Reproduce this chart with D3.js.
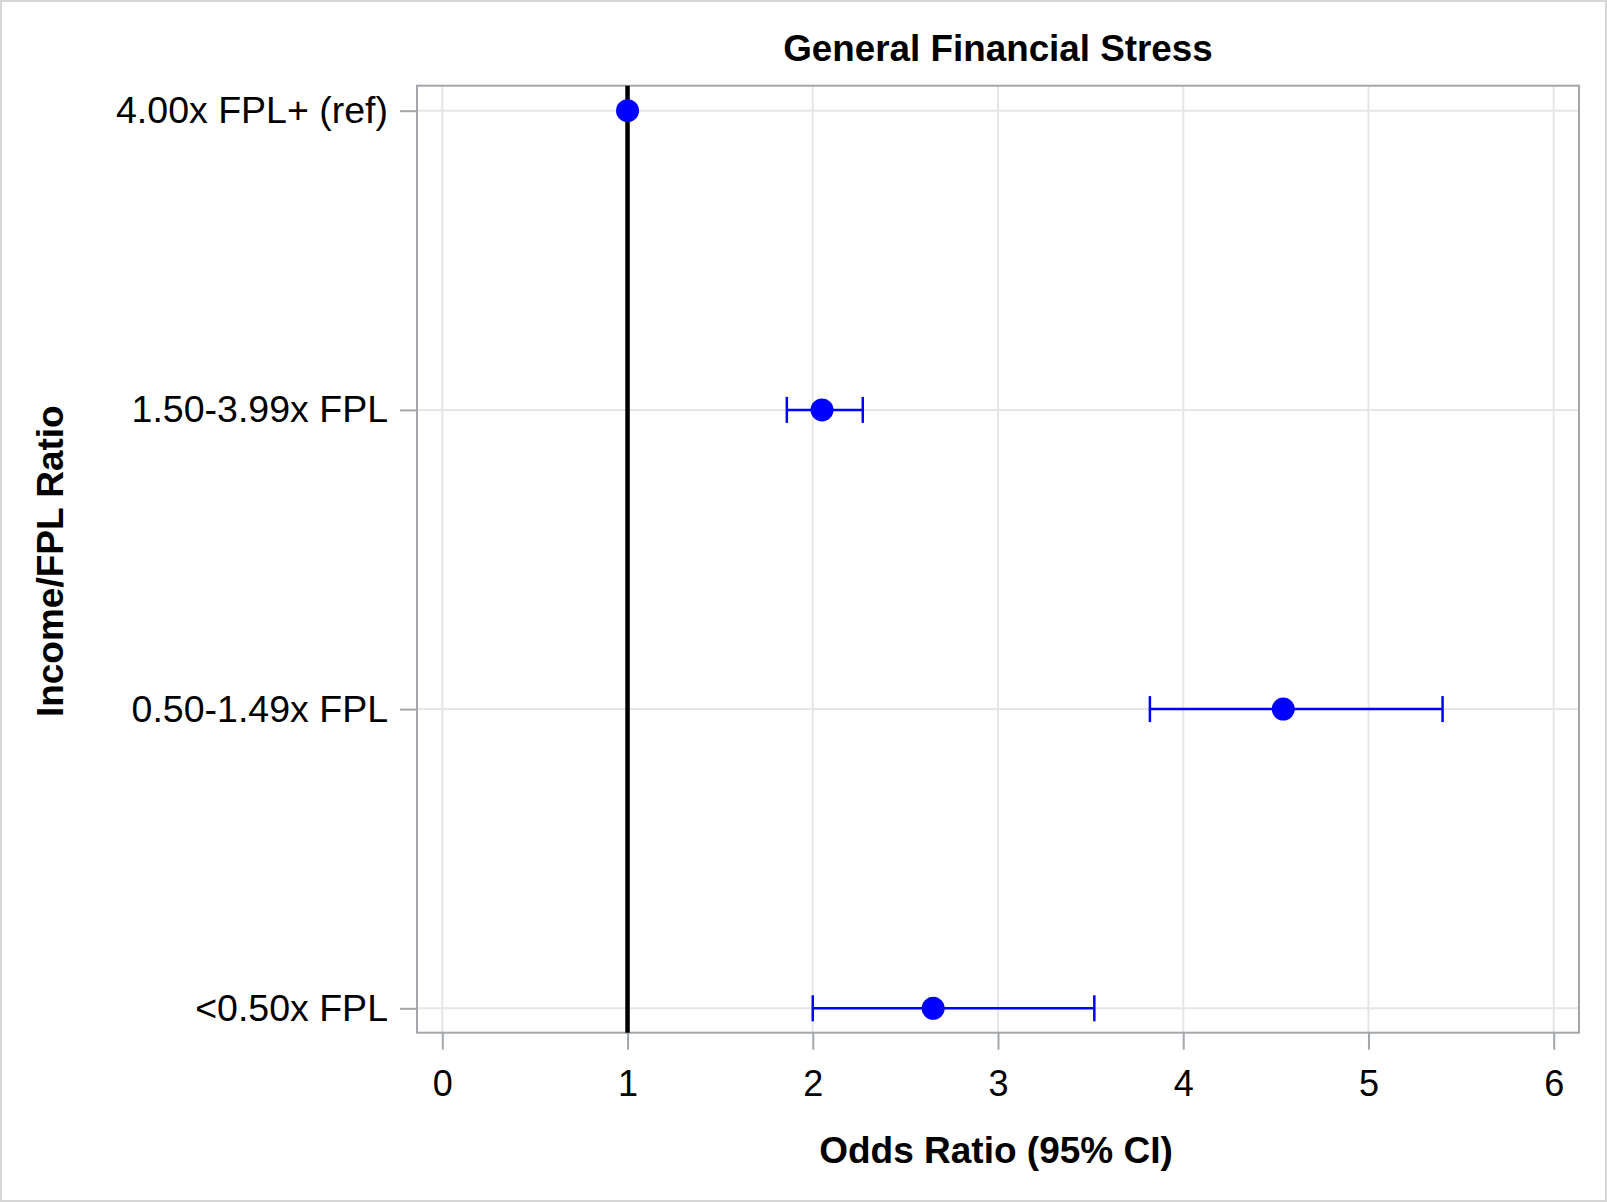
<!DOCTYPE html>
<html>
<head>
<meta charset="utf-8">
<script src="https://cdn.jsdelivr.net/npm/d3@7/dist/d3.min.js"></script>
<style>
  html, body { margin: 0; padding: 0; background: #fff; }
  svg { display: block; }
  text { font-family: "Liberation Sans", Arial, sans-serif; fill: #000; }
</style>
</head>
<body>
<svg id="chart" width="1607" height="1202"></svg>
<script>
// ---- data ----
const categories = ["4.00x FPL+ (ref)", "1.50-3.99x FPL", "0.50-1.49x FPL", "<0.50x FPL"];
const oddsRatio = [1.0, 2.05, 4.54, 2.65];
const lowerCI = [null, 1.86, 3.82, 2.00];
const upperCI = [null, 2.27, 5.40, 3.52];
const xTicks = [0, 1, 2, 3, 4, 5, 6];
const refValue = 1;
const titleText = "General Financial Stress";
const xLabelText = "Odds Ratio (95% CI)";
const yLabelText = "Income/FPL Ratio";

// ---- layout ----
const W = 1607, H = 1202;
const frame = { left: 417, right: 1579, top: 85.7, bottom: 1032.7 };
const svg = d3.select("#chart");

// outer border
svg.append("rect")
  .attr("x", 1).attr("y", 1).attr("width", W - 2).attr("height", H - 2)
  .attr("fill", "#fff").attr("stroke", "#d6d6d6").attr("stroke-width", 2);

const x = d3.scaleLinear().domain([0, 6]).range([442.3, 1553.7]);
const y = d3.scalePoint().domain(categories).range([frame.top + 25, frame.bottom - 24.4]);

const gridColor = "#e6e6e6";
const axisColor = "#a3a7ab";

// grid lines
svg.append("g").selectAll("line").data(xTicks).join("line")
  .attr("x1", d => x(d)).attr("x2", d => x(d))
  .attr("y1", frame.top).attr("y2", frame.bottom)
  .attr("stroke", gridColor).attr("stroke-width", 2);
svg.append("g").selectAll("line").data(categories).join("line")
  .attr("x1", frame.left).attr("x2", frame.right)
  .attr("y1", d => y(d)).attr("y2", d => y(d))
  .attr("stroke", gridColor).attr("stroke-width", 2);

// axes
const xAxis = d3.axisBottom(x).tickValues(xTicks).tickSize(17).tickPadding(21).tickFormat(d3.format("d"));
const gx = svg.append("g").attr("transform", `translate(0,${frame.bottom})`).call(xAxis);
gx.select(".domain").remove();
gx.selectAll(".tick line").attr("stroke", axisColor).attr("stroke-width", 2);
gx.selectAll(".tick text").attr("font-size", 36).attr("font-family", "Liberation Sans, Arial, sans-serif").attr("fill", "#222");

const yAxis = d3.axisLeft(y).tickSize(17).tickPadding(12);
const gy = svg.append("g").attr("transform", `translate(${frame.left},0)`).call(yAxis);
gy.select(".domain").remove();
gy.selectAll(".tick line").attr("stroke", axisColor).attr("stroke-width", 2);
gy.selectAll(".tick text").attr("font-size", 37.5).attr("font-family", "Liberation Sans, Arial, sans-serif").attr("fill", "#222");

// frame
svg.append("rect")
  .attr("x", frame.left).attr("y", frame.top)
  .attr("width", frame.right - frame.left).attr("height", frame.bottom - frame.top)
  .attr("fill", "none").attr("stroke", axisColor).attr("stroke-width", 2);

// reference line
svg.append("line")
  .attr("x1", x(refValue)).attr("x2", x(refValue))
  .attr("y1", frame.top).attr("y2", frame.bottom)
  .attr("stroke", "#000").attr("stroke-width", 4.5);

// error bars
const rows = categories.map((c, i) => ({ c, or: oddsRatio[i], lo: lowerCI[i], hi: upperCI[i] }));
const eb = svg.append("g").selectAll("g").data(rows.filter(d => d.lo != null)).join("g");
eb.append("line")
  .attr("x1", d => x(d.lo)).attr("x2", d => x(d.hi))
  .attr("y1", d => y(d.c)).attr("y2", d => y(d.c))
  .attr("stroke", "#0000ff").attr("stroke-width", 2.5);
eb.append("line")
  .attr("x1", d => x(d.lo)).attr("x2", d => x(d.lo))
  .attr("y1", d => y(d.c) - 13).attr("y2", d => y(d.c) + 13)
  .attr("stroke", "#0000ff").attr("stroke-width", 2.5);
eb.append("line")
  .attr("x1", d => x(d.hi)).attr("x2", d => x(d.hi))
  .attr("y1", d => y(d.c) - 13).attr("y2", d => y(d.c) + 13)
  .attr("stroke", "#0000ff").attr("stroke-width", 2.5);

// points
svg.append("g").selectAll("circle").data(rows).join("circle")
  .attr("cx", d => x(d.or)).attr("cy", d => y(d.c)).attr("r", 11.5)
  .attr("fill", "#0000ff");

// title and labels
const cx = (frame.left + frame.right) / 2;
svg.append("text").attr("x", cx).attr("y", 61)
  .attr("text-anchor", "middle").attr("font-size", 36.8).attr("font-weight", "bold")
  .text(titleText);
svg.append("text").attr("x", cx - 2).attr("y", 1163)
  .attr("text-anchor", "middle").attr("font-size", 37).attr("font-weight", "bold")
  .text(xLabelText);
svg.append("text")
  .attr("transform", `translate(63,${(frame.top + frame.bottom) / 2 + 2}) rotate(-90)`)
  .attr("text-anchor", "middle").attr("font-size", 37).attr("font-weight", "bold")
  .text(yLabelText);
</script>
</body>
</html>
